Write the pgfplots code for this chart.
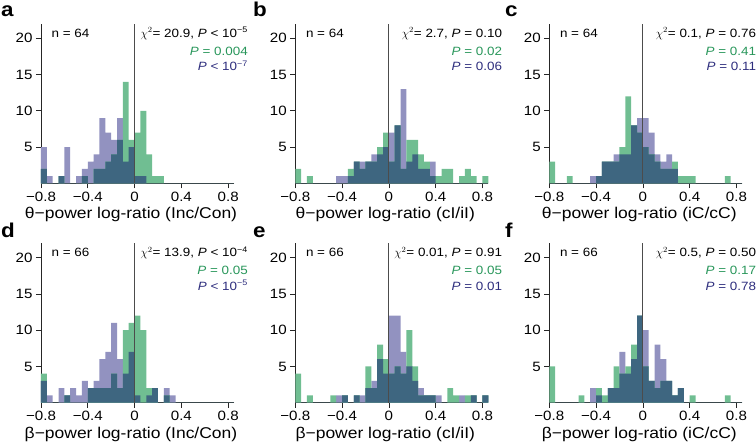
\documentclass[border=0pt]{standalone}
\usepackage{pgfplots}
\pgfplotsset{compat=1.18}
\usepackage{pgfplotstable}
\usepackage{fontspec}
\setmainfont{Liberation Sans}[FakeStretch=1.12]
\definecolor{purp}{RGB}{146,146,192}
\definecolor{grn}{RGB}{112,190,146}
\definecolor{dk}{RGB}{62,102,128}
\definecolor{tgrn}{RGB}{40,150,90}
\definecolor{tblu}{RGB}{45,45,125}
\newcommand{\fs}{\fontsize{12}{14}\selectfont}
\newcommand{\ft}{\fontsize{13.5}{15}\selectfont}
\newcommand{\fl}{\fontsize{15.6}{17}\selectfont}
\newcommand{\fb}{\fontsize{20}{20}\selectfont\bfseries}

\pgfplotstableread{
x p g
-0.80 5 2
-0.75 1 0
-0.70 0 0
-0.65 1 1
-0.60 5 0
-0.55 0 0
-0.50 1 0
-0.45 2 1
-0.40 3 0
-0.35 4 2
-0.30 9 2
-0.25 7 3
-0.20 6 4
-0.15 9 6
-0.10 3 14
-0.05 5 6
0.00 1 7
0.05 1 10
0.10 0 4
0.15 0 1
0.20 0 1
0.25 0 0
0.85 0 0
}\tA
\pgfplotstableread{
x p g
-0.80 0 2
-0.75 0 0
-0.70 0 1
-0.65 0 0
-0.45 1 0
-0.40 1 0
-0.35 1 2
-0.30 3 3
-0.25 3 2
-0.20 3 3
-0.15 4 3
-0.10 4 5
-0.05 5 7
0.00 7 3
0.05 8 8
0.10 13 2
0.15 3 6
0.20 4 6
0.25 2 4
0.30 2 3
0.35 3 1
0.40 0 1
0.45 0 2
0.50 0 2
0.55 0 0
0.60 0 1
0.65 0 2
0.70 0 1
0.75 0 0
0.80 0 1
0.85 0 0
}\tB
\pgfplotstableread{
x p g
-0.80 0 3
-0.75 0 0
-0.65 0 1
-0.60 0 0
-0.45 1 0
-0.40 1 1
-0.35 3 3
-0.30 3 3
-0.25 4 3
-0.20 4 5
-0.15 4 12
-0.10 8 8
-0.05 9 7
0.00 9 5
0.05 7 4
0.10 4 3
0.15 3 2
0.20 4 2
0.25 2 3
0.30 0 1
0.35 0 1
0.40 0 1
0.45 0 0
0.70 0 1
0.75 0 0
0.85 0 0
}\tC
\pgfplotstableread{
x p g
-0.80 3 4
-0.75 1 0
-0.70 0 0
-0.65 2 0
-0.60 1 1
-0.55 2 0
-0.50 1 0
-0.45 3 0
-0.40 2 2
-0.35 3 2
-0.30 6 2
-0.25 7 2
-0.20 11 4
-0.15 6 2
-0.10 4 10
-0.05 7 11
0.00 1 12
0.05 0 10
0.10 1 2
0.15 2 2
0.20 0 0
0.25 2 1
0.30 1 0
0.35 0 0
0.85 0 0
}\tD
\pgfplotstableread{
x p g
-0.80 0 4
-0.75 0 0
-0.70 0 1
-0.65 0 0
-0.50 0 1
-0.45 1 0
-0.40 1 1
-0.35 0 0
-0.30 1 1
-0.25 1 0
-0.20 2 5
-0.15 3 2
-0.10 6 8
-0.05 4 6
0.00 12 4
0.05 12 5
0.10 7 4
0.15 5 10
0.20 3 5
0.25 2 1
0.30 1 1
0.35 1 1
0.40 1 0
0.45 0 0
0.50 0 2
0.55 0 1
0.60 1 0
0.65 0 1
0.70 1 1
0.75 0 0
0.80 1 1
0.85 0 0
}\tE
\pgfplotstableread{
x p g
-0.80 0 5
-0.75 0 0
-0.55 0 1
-0.50 0 0
-0.45 2 0
-0.40 1 2
-0.35 0 1
-0.30 2 2
-0.25 2 5
-0.20 7 4
-0.15 4 5
-0.10 6 8
-0.05 12 12
0.00 10 5
0.05 3 3
0.10 8 2
0.15 6 3
0.20 3 3
0.25 1 1
0.30 2 2
0.35 0 0
0.40 0 1
0.45 0 0
0.70 0 1
0.75 0 0
0.85 0 0
}\tF

\pgfplotsset{panel/.style={
  scale only axis, width=193pt, height=159.5pt, anchor=south west,
  xmin=-0.8, xmax=0.85, ymin=0, ymax=22,
  axis lines=left, axis line style={-, black!85, line width=0.6pt},
  xtick={-0.8,-0.4,0,0.4,0.8}, xticklabels={−0.8,−0.4,0,0.4,0.8},
  ytick={5,10,15,20}, yticklabels={5,10,15,20},
  tick align=outside, major tick length=5pt,
  tick style={black!85, line width=0.6pt},
  ticklabel style={font=\ft},
  clip=false,
}}

% #1,#2 origin (numbers, pt)
\newcommand{\panel}[8]{%
\begin{axis}[panel, at={(#1pt,#2pt)}]
\addplot[const plot, fill=purp, draw=none] table[x=x,y=p]{#3} \closedcycle;
\addplot[const plot, fill=grn, draw=none] table[x=x,y=g]{#3} \closedcycle;
\addplot[const plot, fill=dk, draw=none] table[x=x,y expr={min(\thisrow{p},\thisrow{g})}]{#3} \closedcycle;
\draw[black!70, line width=0.9pt] (axis cs:0,0) -- (axis cs:0,22);
\end{axis}
\node[anchor=base west, font=\fs, inner sep=0pt] at ({#1+10.5},{#2+146}) {n = #4};
\node[anchor=base east, font=\fs, inner sep=0pt] at ({#1+207},{#2+146}) {#5};
\node[anchor=base east, font=\fs, inner sep=0pt, text=tgrn] at ({#1+207},{#2+128}) {#6};
\node[anchor=base east, font=\fs, inner sep=0pt, text=tblu] at ({#1+207},{#2+112.5}) {#7};
\node[anchor=base, font=\fl, inner sep=0pt] at ({#1+90},{#2-35.5}) {#8};
}

\begin{document}
\begin{tikzpicture}[x=1pt,y=1pt]
\useasboundingbox (0,0) rectangle (756,443);
\panel{41}{259.7}{\tA}{64}{$\chi^2$= 20.9, \textit{P} < 10\textsuperscript{−5}}{\textit{P} = 0.004}{\textit{P} < 10\textsuperscript{−7}}{θ−power log-ratio (Inc/Con)}
\panel{295.3}{259.7}{\tB}{64}{$\chi^2$= 2.7, \textit{P} = 0.10}{\textit{P} = 0.02}{\textit{P} = 0.06}{θ−power log-ratio (cI/iI)}
\panel{549.3}{259.7}{\tC}{64}{$\chi^2$= 0.1, \textit{P} = 0.76}{\textit{P} = 0.41}{\textit{P} = 0.11}{θ−power log-ratio (iC/cC)}
\panel{41}{40.3}{\tD}{66}{$\chi^2$= 13.9, \textit{P} < 10\textsuperscript{−4}}{\textit{P} = 0.05}{\textit{P} < 10\textsuperscript{−5}}{β−power log-ratio (Inc/Con)}
\panel{295.3}{40.3}{\tE}{66}{$\chi^2$= 0.01, \textit{P} = 0.91}{\textit{P} = 0.05}{\textit{P} = 0.01}{β−power log-ratio (cI/iI)}
\panel{549.3}{40.3}{\tF}{66}{$\chi^2$= 0.5, \textit{P} = 0.50}{\textit{P} = 0.17}{\textit{P} = 0.78}{β−power log-ratio (iC/cC)}
\node[anchor=base west, font=\fb, inner sep=0pt] at (1,426) {a};
\node[anchor=base west, font=\fb, inner sep=0pt] at (253,426) {b};
\node[anchor=base west, font=\fb, inner sep=0pt] at (505,426) {c};
\node[anchor=base west, font=\fb, inner sep=0pt] at (1,205.3) {d};
\node[anchor=base west, font=\fb, inner sep=0pt] at (253,205.3) {e};
\node[anchor=base west, font=\fb, inner sep=0pt] at (505,205.3) {f};
\end{tikzpicture}
\end{document}
